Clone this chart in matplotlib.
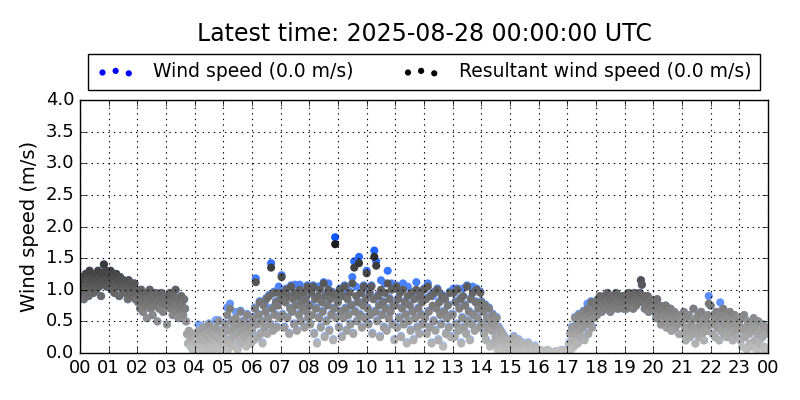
import numpy as np
import matplotlib
matplotlib.use("Agg")
import matplotlib.pyplot as plt
from matplotlib.colors import LinearSegmentedColormap

# one sample every 2 minutes, 30 per hour, 00:00 -> 23:58
sample_step_min = 2

# resultant wind speed (m/s)
resultant = [
    1.10, 0.95, 1.20, 1.05, 0.85, 1.15, 1.25, 1.00, 1.10, 0.90, 1.30, 1.15, 1.05, 1.20, 0.95, 1.10, 1.25, 1.00, 1.15, 1.30, 1.05, 1.20, 0.90, 1.10, 1.25, 1.40, 1.15, 1.30, 1.05, 1.20,  # 00
    1.25, 1.10, 1.30, 1.00, 1.15, 1.20, 0.95, 1.10, 1.25, 1.05, 1.15, 0.90, 1.20, 1.05, 1.10, 1.00, 1.15, 0.95, 1.10, 1.05, 0.85, 1.15, 1.00, 1.10, 0.90, 1.05, 0.95, 1.10, 0.85, 1.00,  # 01
    0.95, 0.80, 0.90, 0.70, 1.00, 0.85, 0.65, 0.90, 0.75, 0.95, 0.55, 0.85, 0.80, 1.00, 0.70, 0.90, 0.60, 0.85, 0.75, 0.95, 0.80, 0.50, 0.90, 0.70, 0.85, 0.95, 0.75, 0.65, 0.90, 0.80,  # 02
    0.85, 0.45, 0.90, 0.75, 0.95, 0.70, 0.80, 0.60, 0.90, 0.75, 1.00, 0.65, 0.85, 0.55, 0.80, 0.70, 0.90, 0.75, 0.60, 0.85, 0.70, 0.50, 0.30, 0.15, 0.35, 0.20, 0.10, 0.25, 0.05, 0.30,  # 03
    0.20, 0.05, 0.30, 0.15, 0.35, 0.10, 0.25, 0.00, 0.20, 0.40, 0.10, 0.30, 0.05, 0.15, 0.25, 0.45, 0.10, 0.35, 0.20, 0.05, 0.30, 0.15, 0.40, 0.10, 0.25, 0.50, 0.05, 0.20, 0.35, 0.15,  # 04
    0.30, 0.10, 0.45, 0.20, 0.60, 0.05, 0.35, 0.70, 0.15, 0.50, 0.25, 0.40, 0.10, 0.55, 0.30, 0.05, 0.45, 0.20, 0.65, 0.35, 0.15, 0.50, 0.25, 0.40, 0.10, 0.60, 0.30, 0.20, 0.45, 0.15,  # 05
    0.35, 0.55, 0.20, 0.70, 1.12, 0.45, 0.25, 0.60, 0.80, 0.30, 0.50, 0.15, 0.75, 0.40, 0.65, 0.85, 0.30, 0.55, 0.90, 0.45, 1.35, 0.70, 0.35, 0.95, 0.60, 0.80, 0.40, 0.75, 0.95, 0.55,  # 06
    0.85, 1.20, 0.60, 0.95, 0.40, 0.80, 1.00, 0.55, 0.90, 0.30, 0.70, 1.05, 0.65, 0.85, 0.45, 0.95, 0.75, 0.35, 0.90, 0.60, 1.00, 0.50, 0.80, 0.70, 0.95, 0.40, 0.85, 0.65, 1.05, 0.55,  # 07
    0.75, 0.45, 0.95, 0.60, 1.05, 0.30, 0.85, 0.70, 0.15, 0.90, 0.55, 1.00, 0.40, 0.80, 0.65, 1.10, 0.25, 0.90, 0.50, 0.75, 1.00, 0.35, 0.85, 0.60, 0.95, 0.20, 0.70, 1.72, 0.55, 0.90,  # 08
    0.80, 0.40, 1.00, 0.65, 0.25, 0.90, 0.55, 1.05, 0.70, 0.35, 0.85, 0.60, 0.95, 0.45, 0.75, 1.10, 0.30, 1.35, 0.65, 0.90, 0.50, 0.80, 1.42, 0.60, 0.95, 0.40, 0.75, 1.05, 0.55, 0.85,  # 09
    1.26, 0.70, 0.45, 0.95, 0.60, 1.05, 0.30, 0.85, 1.52, 0.65, 1.38, 0.50, 0.90, 0.75, 0.25, 1.00, 0.60, 0.80, 0.40, 0.95, 0.70, 0.35, 1.10, 0.55, 0.85, 0.65, 1.00, 0.45, 0.75, 0.20,  # 10
    0.75, 1.05, 0.40, 0.85, 0.55, 0.95, 0.25, 0.70, 1.00, 0.45, 0.80, 0.60, 0.15, 0.90, 0.50, 0.75, 0.35, 0.95, 0.65, 0.20, 0.85, 0.55, 1.00, 0.40, 0.70, 0.30, 0.90, 0.60, 0.80, 0.45,  # 11
    1.00, 0.55, 0.85, 0.30, 1.05, 0.65, 0.40, 0.90, 0.15, 0.75, 0.50, 0.95, 0.35, 0.70, 1.00, 0.20, 0.80, 0.60, 0.45, 0.90, 0.10, 0.65, 0.85, 0.30, 0.55, 0.75, 0.40, 0.95, 0.25, 0.60,  # 12
    0.60, 0.95, 0.25, 0.80, 0.45, 1.00, 0.35, 0.70, 0.85, 0.15, 0.55, 0.90, 0.40, 0.75, 0.30, 1.05, 0.50, 0.65, 0.20, 0.85, 0.45, 0.95, 0.60, 0.35, 0.80, 1.00, 0.55, 0.70, 0.40, 0.95,  # 13
    0.80, 0.45, 0.65, 0.30, 0.75, 0.20, 0.55, 0.40, 0.70, 0.10, 0.50, 0.35, 0.60, 0.15, 0.45, 0.25, 0.55, 0.05, 0.40, 0.20, 0.35, 0.10, 0.30, 0.05, 0.25, 0.15, 0.20, 0.05, 0.15, 0.10,  # 14
    0.20, 0.05, 0.15, 0.00, 0.25, 0.10, 0.05, 0.15, 0.00, 0.20, 0.05, 0.10, 0.00, 0.15, 0.05, 0.00, 0.10, 0.05, 0.00, 0.15, 0.00, 0.05, 0.10, 0.00, 0.05, 0.00, 0.10, 0.00, 0.05, 0.00,  # 15
    0.00, 0.00, 0.05, 0.00, 0.00, 0.02, 0.00, 0.00, 0.00, 0.05, 0.00, 0.00, 0.00, 0.02, 0.00, 0.00, 0.00, 0.00, 0.03, 0.00, 0.00, 0.00, 0.00, 0.00, 0.05, 0.00, 0.00, 0.00, 0.00, 0.00,  # 16
    0.05, 0.00, 0.15, 0.30, 0.05, 0.40, 0.20, 0.10, 0.55, 0.30, 0.45, 0.15, 0.60, 0.35, 0.25, 0.50, 0.40, 0.65, 0.20, 0.55, 0.45, 0.70, 0.30, 0.60, 0.50, 0.80, 0.40, 0.65, 0.55, 0.70,  # 17
    0.75, 0.60, 0.85, 0.70, 0.90, 0.80, 0.65, 0.85, 0.75, 0.90, 0.70, 0.80, 0.95, 0.75, 0.85, 0.65, 0.90, 0.80, 0.70, 0.85, 0.75, 0.95, 0.80, 0.70, 0.90, 0.85, 0.75, 0.80, 0.90, 0.70,  # 18
    0.80, 0.90, 0.70, 0.85, 0.95, 0.75, 0.85, 0.90, 0.80, 0.70, 0.95, 0.85, 0.75, 0.90, 0.80, 0.85, 0.95, 1.15, 1.08, 0.80, 0.90, 0.70, 0.85, 0.75, 0.90, 0.65, 0.80, 0.85, 0.70, 0.75,  # 19
    0.80, 0.65, 0.75, 0.55, 0.85, 0.70, 0.60, 0.75, 0.45, 0.65, 0.70, 0.50, 0.60, 0.75, 0.40, 0.55, 0.65, 0.45, 0.70, 0.35, 0.60, 0.50, 0.65, 0.40, 0.55, 0.45, 0.60, 0.30, 0.50, 0.55,  # 20
    0.50, 0.30, 0.65, 0.40, 0.20, 0.55, 0.35, 0.60, 0.25, 0.45, 0.50, 0.30, 0.70, 0.40, 0.15, 0.55, 0.35, 0.60, 0.25, 0.45, 0.65, 0.30, 0.50, 0.20, 0.40, 0.55, 0.35, 0.60, 0.78, 0.45,  # 21
    0.75, 0.45, 0.30, 0.60, 0.50, 0.25, 0.65, 0.40, 0.55, 0.20, 0.60, 0.35, 0.50, 0.70, 0.30, 0.45, 0.60, 0.25, 0.55, 0.40, 0.65, 0.30, 0.50, 0.20, 0.45, 0.60, 0.35, 0.55, 0.25, 0.40,  # 22
    0.45, 0.20, 0.55, 0.10, 0.35, 0.60, 0.25, 0.40, 0.05, 0.50, 0.30, 0.15, 0.45, 0.10, 0.35, 0.55, 0.20, 0.40, 0.05, 0.30, 0.50, 0.15, 0.35, 0.00, 0.25, 0.45, 0.10, 0.30, 0.05, 0.40,  # 23
]

# scalar wind speed (m/s)
wind_speed = [
    1.10, 0.95, 1.20, 1.05, 0.85, 1.15, 1.25, 1.00, 1.10, 0.90, 1.30, 1.15, 1.05, 1.20, 0.95, 1.10, 1.25, 1.00, 1.15, 1.30, 1.05, 1.20, 0.90, 1.10, 1.25, 1.40, 1.15, 1.30, 1.05, 1.20,  # 00
    1.25, 1.10, 1.30, 1.00, 1.15, 1.20, 0.95, 1.10, 1.25, 1.05, 1.15, 0.90, 1.20, 1.05, 1.10, 1.00, 1.15, 0.95, 1.10, 1.05, 0.85, 1.15, 1.00, 1.10, 0.90, 1.05, 0.95, 1.10, 0.85, 1.00,  # 01
    0.95, 0.80, 0.90, 0.70, 1.00, 0.85, 0.65, 0.90, 0.75, 0.95, 0.55, 0.85, 0.80, 1.00, 0.70, 0.90, 0.60, 0.85, 0.75, 0.95, 0.80, 0.50, 0.90, 0.70, 0.85, 0.95, 0.75, 0.65, 0.90, 0.80,  # 02
    0.85, 0.45, 0.90, 0.75, 0.95, 0.70, 0.80, 0.60, 0.90, 0.75, 1.00, 0.65, 0.85, 0.55, 0.80, 0.70, 0.90, 0.75, 0.60, 0.85, 0.70, 0.50, 0.30, 0.15, 0.35, 0.20, 0.10, 0.25, 0.05, 0.30,  # 03
    0.22, 0.07, 0.32, 0.17, 0.45, 0.12, 0.27, 0.02, 0.22, 0.42, 0.12, 0.32, 0.07, 0.17, 0.35, 0.47, 0.12, 0.37, 0.22, 0.07, 0.32, 0.17, 0.52, 0.12, 0.27, 0.52, 0.07, 0.22, 0.37, 0.17,  # 04
    0.32, 0.12, 0.47, 0.22, 0.72, 0.07, 0.37, 0.78, 0.17, 0.52, 0.27, 0.42, 0.12, 0.65, 0.32, 0.07, 0.47, 0.22, 0.67, 0.37, 0.17, 0.52, 0.27, 0.50, 0.12, 0.62, 0.32, 0.22, 0.47, 0.17,  # 05
    0.37, 0.57, 0.22, 0.72, 1.18, 0.47, 0.27, 0.62, 0.82, 0.32, 0.52, 0.17, 0.77, 0.42, 0.75, 0.87, 0.32, 0.57, 0.92, 0.47, 1.42, 0.72, 0.37, 0.97, 0.62, 0.82, 0.42, 0.77, 1.05, 0.57,  # 06
    0.87, 1.23, 0.62, 0.97, 0.42, 0.95, 1.02, 0.57, 0.92, 0.32, 0.72, 1.07, 0.67, 0.87, 0.47, 1.08, 0.77, 0.37, 0.92, 0.62, 1.08, 0.52, 0.82, 0.72, 0.97, 0.42, 0.87, 0.67, 1.07, 0.57,  # 07
    0.77, 0.47, 0.97, 0.75, 1.07, 0.32, 0.87, 0.72, 0.17, 1.05, 0.57, 1.02, 0.42, 0.82, 0.67, 1.12, 0.27, 0.92, 0.52, 0.77, 1.10, 0.37, 0.87, 0.62, 0.97, 0.22, 0.72, 1.83, 0.57, 0.92,  # 08
    0.82, 0.42, 1.02, 0.67, 0.27, 0.92, 0.57, 1.07, 0.72, 0.37, 1.00, 0.62, 0.97, 0.47, 0.77, 1.20, 0.32, 1.45, 0.67, 1.05, 0.52, 0.82, 1.52, 0.62, 0.97, 0.42, 0.77, 1.07, 0.57, 0.87,  # 09
    1.30, 0.72, 0.47, 0.97, 0.62, 1.07, 0.32, 0.87, 1.62, 0.67, 1.45, 0.52, 0.92, 0.77, 0.27, 1.15, 0.62, 0.82, 0.42, 1.10, 0.72, 0.37, 1.30, 0.57, 0.87, 0.67, 1.10, 0.47, 0.77, 0.22,  # 10
    0.77, 1.07, 0.42, 0.87, 0.57, 0.97, 0.27, 0.72, 1.10, 0.47, 0.82, 0.62, 0.17, 1.05, 0.52, 0.77, 0.37, 0.97, 0.67, 0.22, 0.87, 0.57, 1.12, 0.42, 0.72, 0.32, 0.92, 0.62, 0.82, 0.47,  # 11
    1.02, 0.57, 0.87, 0.32, 1.10, 0.67, 0.42, 0.92, 0.17, 0.90, 0.52, 0.97, 0.37, 0.72, 1.02, 0.22, 0.82, 0.62, 0.47, 0.92, 0.12, 0.67, 0.87, 0.32, 0.57, 0.77, 0.42, 0.97, 0.27, 0.62,  # 12
    0.62, 1.02, 0.27, 0.82, 0.47, 1.02, 0.37, 0.72, 0.87, 0.17, 0.57, 1.02, 0.42, 0.77, 0.32, 1.07, 0.52, 0.67, 0.22, 0.87, 0.47, 1.05, 0.62, 0.37, 0.82, 1.02, 0.57, 0.72, 0.42, 0.97,  # 13
    0.82, 0.47, 0.67, 0.32, 0.77, 0.22, 0.57, 0.42, 0.72, 0.12, 0.52, 0.37, 0.62, 0.17, 0.47, 0.27, 0.57, 0.07, 0.42, 0.22, 0.37, 0.12, 0.32, 0.07, 0.27, 0.17, 0.22, 0.07, 0.17, 0.12,  # 14
    0.22, 0.07, 0.17, 0.02, 0.27, 0.12, 0.07, 0.17, 0.02, 0.22, 0.07, 0.12, 0.02, 0.17, 0.07, 0.02, 0.12, 0.07, 0.02, 0.17, 0.02, 0.07, 0.12, 0.02, 0.07, 0.02, 0.12, 0.02, 0.07, 0.02,  # 15
    0.00, 0.00, 0.05, 0.00, 0.00, 0.02, 0.00, 0.00, 0.00, 0.05, 0.00, 0.00, 0.00, 0.02, 0.00, 0.00, 0.00, 0.00, 0.03, 0.00, 0.00, 0.00, 0.00, 0.00, 0.05, 0.00, 0.00, 0.00, 0.00, 0.00,  # 16
    0.07, 0.02, 0.17, 0.32, 0.07, 0.42, 0.22, 0.12, 0.57, 0.32, 0.47, 0.17, 0.62, 0.37, 0.27, 0.52, 0.42, 0.67, 0.22, 0.57, 0.47, 0.78, 0.32, 0.62, 0.52, 0.82, 0.42, 0.67, 0.57, 0.72,  # 17
    0.75, 0.60, 0.85, 0.70, 0.90, 0.80, 0.65, 0.85, 0.75, 0.90, 0.70, 0.80, 0.95, 0.75, 0.85, 0.65, 0.90, 0.80, 0.70, 0.85, 0.75, 0.95, 0.80, 0.70, 0.90, 0.85, 0.75, 0.80, 0.90, 0.70,  # 18
    0.80, 0.90, 0.70, 0.85, 0.95, 0.75, 0.85, 0.90, 0.80, 0.70, 0.95, 0.85, 0.75, 0.90, 0.80, 0.85, 0.95, 1.15, 1.08, 0.80, 0.90, 0.70, 0.85, 0.75, 0.90, 0.65, 0.80, 0.85, 0.70, 0.75,  # 19
    0.80, 0.65, 0.75, 0.55, 0.85, 0.70, 0.60, 0.75, 0.45, 0.65, 0.70, 0.50, 0.60, 0.75, 0.40, 0.55, 0.65, 0.45, 0.70, 0.35, 0.60, 0.50, 0.65, 0.40, 0.55, 0.45, 0.60, 0.30, 0.50, 0.55,  # 20
    0.50, 0.30, 0.65, 0.40, 0.20, 0.55, 0.35, 0.60, 0.25, 0.45, 0.50, 0.30, 0.70, 0.40, 0.15, 0.55, 0.35, 0.60, 0.25, 0.45, 0.65, 0.30, 0.50, 0.20, 0.40, 0.55, 0.35, 0.60, 0.90, 0.45,  # 21
    0.75, 0.45, 0.30, 0.60, 0.50, 0.25, 0.65, 0.40, 0.55, 0.20, 0.80, 0.35, 0.50, 0.70, 0.30, 0.45, 0.60, 0.25, 0.55, 0.40, 0.65, 0.30, 0.50, 0.20, 0.45, 0.60, 0.35, 0.55, 0.25, 0.40,  # 22
    0.45, 0.20, 0.55, 0.10, 0.35, 0.60, 0.25, 0.40, 0.05, 0.50, 0.30, 0.15, 0.45, 0.10, 0.35, 0.55, 0.20, 0.40, 0.05, 0.30, 0.50, 0.15, 0.35, 0.00, 0.25, 0.45, 0.10, 0.30, 0.05, 0.40,  # 23
]

hour_labels = ["%02d" % h for h in range(24)] + ["00"]
latest_time = "2025-08-28 00:00:00 UTC"
latest_ws = 0.0
latest_rws = 0.0

hours = np.arange(len(resultant)) * sample_step_min / 60.0

# colour gets stronger with speed, like the original plot
grey_cmap = LinearSegmentedColormap.from_list("greys", [(0.76, 0.76, 0.76), (0.0, 0.0, 0.0)])
blue_cmap = LinearSegmentedColormap.from_list("blues", [(0.62, 0.76, 1.0), (0.0, 0.3, 1.0)])

plt.style.use("classic")
fig = plt.figure(figsize=(8, 4), dpi=100, facecolor="white")
ax = fig.add_axes([0.1, 0.1175, 0.86, 0.6325])

ax.scatter(hours, wind_speed, c=wind_speed, cmap=blue_cmap, vmin=0, vmax=2.0,
           s=34, linewidths=0)
ax.scatter(hours, resultant, c=resultant, cmap=grey_cmap, vmin=0, vmax=2.0,
           s=34, linewidths=0)

# legend proxies
h1 = ax.scatter([], [], color="blue", s=20, linewidths=0,
                label="Wind speed (%.1f m/s)" % latest_ws)
h2 = ax.scatter([], [], color="black", s=20, linewidths=0,
                label="Resultant wind speed (%.1f m/s)" % latest_rws)

ax.set_xlim(0, 24)
ax.set_ylim(0, 4)
ax.set_xticks(np.arange(25))
ax.set_xticklabels(hour_labels)
ax.set_yticks(np.arange(0, 4.01, 0.5))
ax.tick_params(labelsize=13)
ax.grid(True, color="black", linestyle=":", linewidth=0.8)
ax.set_ylabel("Wind speed (m/s)", fontsize=14)

leg = ax.legend(handles=[h1, h2], loc="lower center", bbox_to_anchor=(0.5, 1.04),
                ncol=2, scatterpoints=3, fontsize=13.5, frameon=True,
                fancybox=False, borderaxespad=0, columnspacing=2.6,
                handletextpad=1.0, borderpad=0.45)
leg.get_frame().set_edgecolor("black")

# title centred over the axes
ax.text(0.5, 1.262, "Latest time: " + latest_time, transform=ax.transAxes,
        fontsize=17, ha="center", va="center")

fig.savefig("out.png", dpi=100, facecolor="white")
